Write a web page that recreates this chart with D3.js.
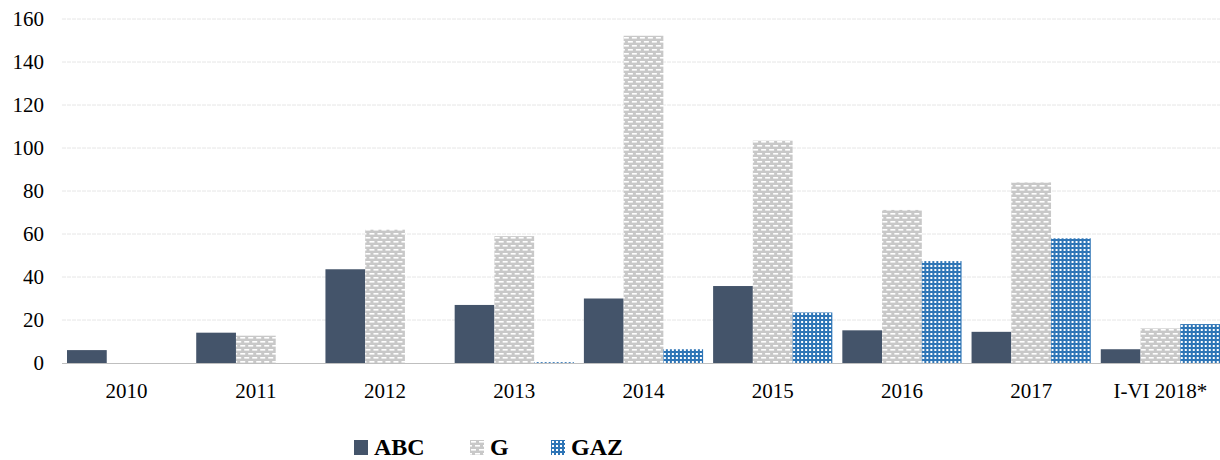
<!DOCTYPE html>
<html>
<head>
<meta charset="utf-8">
<script src="https://cdn.jsdelivr.net/npm/d3@7"></script>
<style>
  body { margin: 0; background: #fff; }
  svg { display: block; }
</style>
</head>
<body>
<div id="chart"></div>
<script>
var categories = ["2010", "2011", "2012", "2013", "2014", "2015", "2016", "2017", "I-VI 2018*"];
var seriesNames = ["ABC", "G", "GAZ"];
var abcValues = [6, 14.1, 43.6, 27, 30, 35.8, 15.2, 14.5, 6.4];
var gValues = [0, 12.7, 62, 59, 152.2, 103.4, 71.2, 84, 16.1];
var gazValues = [0, 0, 0, 0.4, 6.4, 23.5, 47.4, 58, 18.1];
var yTicks = [0, 20, 40, 60, 80, 100, 120, 140, 160];

var width = 1220, height = 460;
var serif = "'Liberation Serif', 'Times New Roman', serif";

var svg = d3.select("#chart")
    .append("svg")
    .attr("width", width)
    .attr("height", height);

// fill patterns
var defs = svg.append("defs");

var pG = defs.append("pattern")
    .attr("id", "patG")
    .attr("patternUnits", "userSpaceOnUse")
    .attr("width", 8)
    .attr("height", 8);
pG.append("rect").attr("width", 8).attr("height", 8).attr("fill", "#c8c8c8");
pG.append("rect").attr("x", 1).attr("y", 1).attr("width", 5).attr("height", 1.6).attr("fill", "#fff");
pG.append("rect").attr("x", 5).attr("y", 5).attr("width", 5).attr("height", 1.6).attr("fill", "#fff");
pG.append("rect").attr("x", -3).attr("y", 5).attr("width", 5).attr("height", 1.6).attr("fill", "#fff");

var pGaz = defs.append("pattern")
    .attr("id", "patGaz")
    .attr("patternUnits", "userSpaceOnUse")
    .attr("width", 4)
    .attr("height", 4);
pGaz.append("rect").attr("width", 4).attr("height", 4).attr("fill", "#2e75b6");
pGaz.append("rect").attr("x", 1).attr("y", 1).attr("width", 2).attr("height", 2).attr("fill", "#fff");

var fills = {"ABC": "#44546a", "G": "url(#patG)", "GAZ": "url(#patGaz)"};

var table = categories.map(function(c, i) {
    return {cat: c, ABC: abcValues[i], G: gValues[i], GAZ: gazValues[i]};
});

var x0 = d3.scaleBand()
    .domain(categories)
    .range([62, 1225]);

var x1 = d3.scaleBand()
    .domain(seriesNames)
    .range([5, x0.bandwidth() - 5]);

var y = d3.scaleLinear()
    .domain([0, 160])
    .range([363, 19]);

// gridlines
svg.append("g")
    .selectAll("line")
    .data(yTicks.slice(1))
    .enter()
    .append("line")
    .attr("x1", 62)
    .attr("x2", 1220)
    .attr("y1", function(d) { return y(d); })
    .attr("y2", function(d) { return y(d); })
    .attr("stroke", "#e6e6e6")
    .attr("stroke-width", 1)
    .attr("stroke-dasharray", "4,1");

// y labels
svg.append("g")
    .selectAll("text")
    .data(yTicks)
    .enter()
    .append("text")
    .attr("x", 44)
    .attr("y", function(d) { return y(d); })
    .attr("dy", "0.35em")
    .attr("text-anchor", "end")
    .attr("font-family", serif)
    .attr("font-size", "21px")
    .attr("fill", "#000")
    .text(function(d) { return d; });

// bars
var groups = svg.append("g")
    .selectAll("g")
    .data(table)
    .enter()
    .append("g")
    .attr("transform", function(d) { return "translate(" + x0(d.cat) + ",0)"; });

groups.selectAll("rect")
    .data(function(d) { return seriesNames.map(function(s) { return {key: s, value: d[s]}; }); })
    .enter()
    .append("rect")
    .attr("x", function(d) { return x1(d.key); })
    .attr("y", function(d) { return y(d.value); })
    .attr("width", x1.bandwidth())
    .attr("height", function(d) { return y(0) - y(d.value); })
    .attr("fill", function(d) { return fills[d.key]; });

// baseline
svg.append("line")
    .attr("x1", 62)
    .attr("x2", 1220)
    .attr("y1", y(0) + 0.5)
    .attr("y2", y(0) + 0.5)
    .attr("stroke", "#bfbfbf")
    .attr("stroke-width", 1);

// x labels
svg.append("g")
    .selectAll("text")
    .data(categories)
    .enter()
    .append("text")
    .attr("x", function(d) { return x0(d) + x0.bandwidth() / 2; })
    .attr("y", 398)
    .attr("text-anchor", "middle")
    .attr("font-family", serif)
    .attr("font-size", "21px")
    .attr("fill", "#000")
    .text(function(d) { return d; });

// legend
var legendX = [354, 470, 551];
var legend = svg.append("g")
    .selectAll("g")
    .data(seriesNames)
    .enter()
    .append("g")
    .attr("transform", function(d, i) { return "translate(" + legendX[i] + ",0)"; });

legend.append("rect")
    .attr("x", 0)
    .attr("y", 440)
    .attr("width", 14)
    .attr("height", 15)
    .attr("fill", function(d) { return fills[d]; });

legend.append("text")
    .attr("x", 20)
    .attr("y", 455)
    .attr("font-family", serif)
    .attr("font-size", "24px")
    .attr("font-weight", "bold")
    .attr("fill", "#000")
    .text(function(d) { return d; });
</script>
</body>
</html>
